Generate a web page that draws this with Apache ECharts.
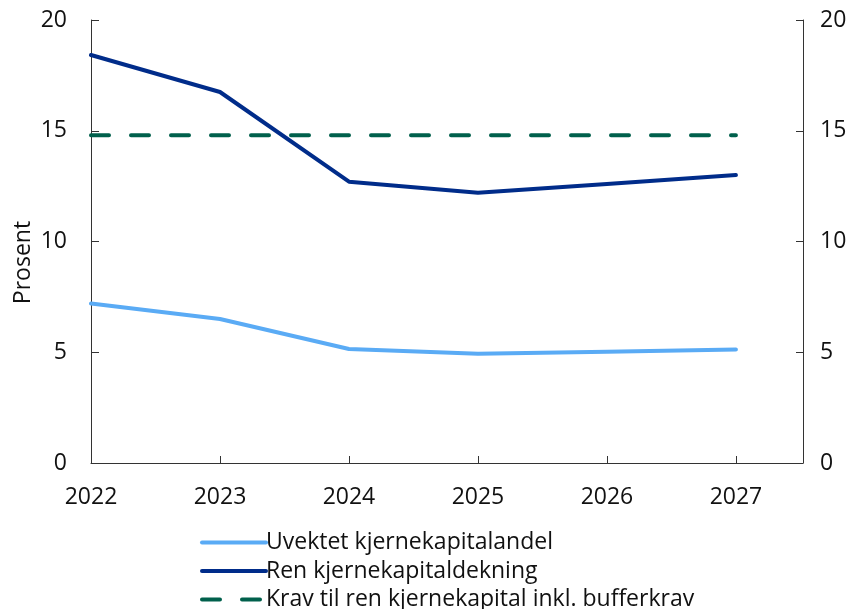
<!DOCTYPE html>
<html>
<head>
<meta charset="utf-8">
<script src="https://cdn.jsdelivr.net/npm/echarts@6/dist/echarts.min.js"></script>
<style>html,body{margin:0;padding:0;background:#fff}#c{width:857px;height:609px}</style>
</head>
<body>
<div id="c"></div>
<script>
const years = [2022, 2023, 2024, 2025, 2026, 2027];
const uvektet = [7.2, 6.5, 5.15, 4.93, 5.02, 5.12];
const renDekning = [18.42, 16.75, 12.7, 12.2, 12.6, 13.0];
const krav = [14.8, 14.8, 14.8, 14.8, 14.8, 14.8];
const yTicks = [0, 5, 10, 15, 20];
const seriesNames = ['Uvektet kjernekapitalandel', 'Ren kjernekapitaldekning', 'Krav til ren kjernekapital inkl. bufferkrav'];

const zip = (vals) => years.map((y, i) => [y, vals[i]]);
const font = 'Open Sans';
const axisColor = '#333';
const fs = 23;

const chart = echarts.init(document.getElementById('c'));
chart.setOption({
  animation: false,
  grid: { left: 91, right: 54, top: 20, bottom: 146, containLabel: false },
  xAxis: {
    type: 'value', min: 2022, max: 2027.52, interval: 1,
    axisLine: { show: true, lineStyle: { color: axisColor, width: 1 } },
    axisTick: { show: true, inside: true, length: 7, lineStyle: { color: axisColor } },
    splitLine: { show: false },
    axisLabel: { margin: 23, fontFamily: font, fontSize: fs, color: '#111',
      showMaxLabel: false,
      formatter: v => Number.isInteger(v) && years.includes(v) ? String(v) : '' }
  },
  yAxis: [
    { type: 'value', min: 0, max: 20, interval: 5, position: 'left',
      name: 'Prosent', nameLocation: 'middle', nameGap: 56, nameRotate: 90, nameMoveOverlap: false,
      nameTextStyle: { fontFamily: font, fontSize: fs, color: '#111', padding: [0, 42, 0, 0] },
      axisLine: { show: true, lineStyle: { color: axisColor } },
      axisTick: { show: true, inside: true, length: 8, lineStyle: { color: axisColor } },
      splitLine: { show: false },
      axisLabel: { margin: 24, fontFamily: font, fontSize: fs, color: '#111',
        formatter: v => yTicks.includes(v) ? String(v) : '' } },
    { type: 'value', min: 0, max: 20, interval: 5, position: 'right',
      axisLine: { show: true, lineStyle: { color: axisColor } },
      axisTick: { show: true, inside: true, length: 7, lineStyle: { color: axisColor } },
      splitLine: { show: false },
      axisLabel: { margin: 17, fontFamily: font, fontSize: fs, color: '#111',
        formatter: v => yTicks.includes(v) ? String(v) : '' } }
  ],
  legend: {
    orient: 'vertical', left: 195, top: 526, height: 200, itemGap: 5.5, itemWidth: 64, itemHeight: 22,
    itemStyle: { opacity: 0 },
    lineStyle: { width: 4 },
    textStyle: { fontFamily: font, fontSize: fs, color: '#111', padding: [0, 0, 0, -5] },
    data: seriesNames
  },
  series: [
    { name: seriesNames[0], type: 'line', data: zip(uvektet), symbol: 'none',
      lineStyle: { color: '#5aabf5', width: 4, cap: 'round', join: 'round' }, itemStyle: { color: '#5aabf5' } },
    { name: seriesNames[1], type: 'line', data: zip(renDekning), symbol: 'none',
      lineStyle: { color: '#002c8a', width: 4, cap: 'round', join: 'round' }, itemStyle: { color: '#002c8a' } },
    { name: seriesNames[2], type: 'line', data: zip(krav), symbol: 'none',
      lineStyle: { color: '#00604c', width: 4, type: [18, 22], cap: 'round' }, itemStyle: { color: '#00604c' } }
  ]
});
</script>
</body>
</html>
